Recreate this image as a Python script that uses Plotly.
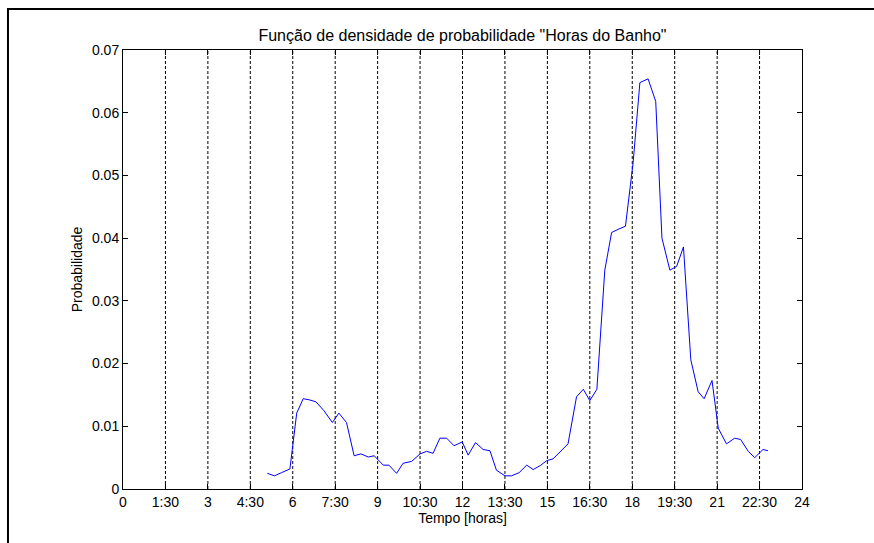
import plotly.graph_objects as go

# Hour of day (decimal hours) and probability density for bath start times
horas = [5.10, 5.35, 5.60, 5.90, 6.14, 6.37, 6.60, 6.82, 7.10, 7.40,
         7.63, 7.90, 8.17, 8.41, 8.67, 8.88, 9.20, 9.40, 9.67, 9.90,
         10.20, 10.50, 10.73, 10.96, 11.20, 11.44, 11.70, 11.99, 12.20, 12.46,
         12.73, 12.97, 13.20, 13.50, 13.73, 14.00, 14.27, 14.50, 14.77, 14.97,
         15.20, 15.48, 15.73, 16.03, 16.27, 16.50, 16.75, 17.03, 17.27, 17.50,
         17.76, 18.03, 18.27, 18.56, 18.83, 19.05, 19.33, 19.57, 19.81, 20.07,
         20.33, 20.54, 20.82, 21.04, 21.33, 21.62, 21.83, 22.10, 22.33, 22.62,
         22.80]
probabilidade = [0.0025, 0.0021, 0.0026, 0.0032, 0.0121, 0.0144, 0.0142, 0.0139, 0.0125, 0.0106,
                 0.0121, 0.0106, 0.0053, 0.0056, 0.0051, 0.0053, 0.0038, 0.0038, 0.0025, 0.0041,
                 0.0044, 0.0056, 0.0060, 0.0057, 0.0081, 0.0081, 0.0069, 0.0075, 0.0054, 0.0074,
                 0.0063, 0.0061, 0.0030, 0.0021, 0.0021, 0.0026, 0.0038, 0.0031, 0.0038, 0.0045,
                 0.0048, 0.0060, 0.0072, 0.0147, 0.0159, 0.0141, 0.0159, 0.0349, 0.0409, 0.0414,
                 0.0419, 0.0520, 0.0648, 0.0654, 0.0618, 0.0400, 0.0349, 0.0355, 0.0386, 0.0206,
                 0.0155, 0.0144, 0.0173, 0.0097, 0.0072, 0.0081, 0.0079, 0.0060, 0.0050, 0.0063,
                 0.0061]

x_ticks = [0, 1.5, 3, 4.5, 6, 7.5, 9, 10.5, 12, 13.5, 15, 16.5, 18, 19.5, 21, 22.5, 24]
x_labels = ["0", "1:30", "3", "4:30", "6", "7:30", "9", "10:30", "12", "13:30",
            "15", "16:30", "18", "19:30", "21", "22:30", "24"]
y_ticks = [0, 0.01, 0.02, 0.03, 0.04, 0.05, 0.06, 0.07]
y_labels = ["0", "0.01", "0.02", "0.03", "0.04", "0.05", "0.06", "0.07"]

FONT = "Liberation Sans, Arial, sans-serif"

fig = go.Figure()
fig.add_trace(go.Scatter(x=horas, y=probabilidade, mode="lines",
                         line=dict(color="#0000ff", width=1), showlegend=False,
                         hoverinfo="x+y"))

# dotted vertical grid lines at every interior x tick
for t in x_ticks[1:-1]:
    fig.add_shape(type="line", xref="x", yref="paper", x0=t, x1=t, y0=0, y1=1,
                  line=dict(color="black", width=1, dash="3px,2px"), layer="below")

# outer figure frame
fig.add_shape(type="rect", xref="paper", yref="paper",
              x0=-0.1694, x1=1.2, y0=-0.2, y1=1.0934,
              line=dict(color="black", width=2), fillcolor="rgba(0,0,0,0)")

fig.update_layout(
    width=874, height=543,
    margin=dict(l=123, r=72, t=50, b=54),
    paper_bgcolor="white", plot_bgcolor="white",
    font=dict(family=FONT, size=14, color="black"),
    title=dict(text='Função de densidade de probabilidade "Horas do Banho"',
               x=0.5, xref="paper", xanchor="center",
               y=1 - 35 / 543, yanchor="middle",
               font=dict(family=FONT, size=16, color="black")),
    xaxis=dict(range=[0, 24], tickmode="array", tickvals=x_ticks, ticktext=x_labels,
               showgrid=False, zeroline=False, showline=True, linecolor="black",
               linewidth=1, mirror="ticks", ticks="inside", ticklen=5,
               tickcolor="black", tickfont=dict(size=14),
               title=dict(text="Tempo [horas]", standoff=1, font=dict(size=14))),
    yaxis=dict(range=[0, 0.07], tickmode="array", tickvals=y_ticks, ticktext=y_labels,
               showgrid=False, zeroline=False, showline=True, linecolor="black",
               linewidth=1, mirror="ticks", ticks="inside", ticklen=5,
               tickcolor="black", tickfont=dict(size=14),
               title=dict(text="Probabilidade", standoff=6, font=dict(size=14))),
)

fig.write_html("out.html")
